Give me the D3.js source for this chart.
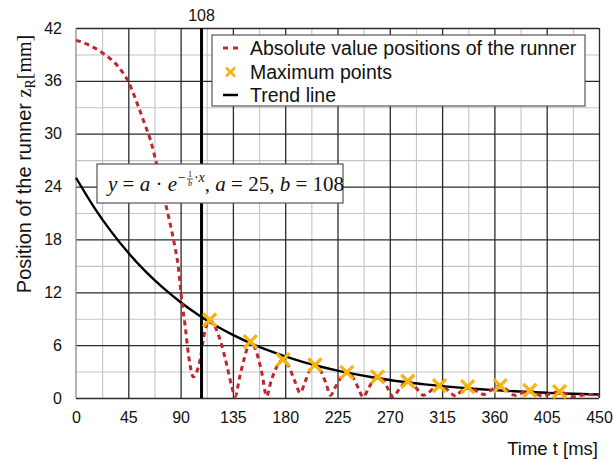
<!DOCTYPE html>
<html>
<head>
<meta charset="utf-8">
<script src="https://cdn.jsdelivr.net/npm/d3@7"></script>
<style>
  html, body { margin: 0; padding: 0; background: #fff; }
  svg { display: block; }
</style>
</head>
<body>
<svg id="chart" width="613" height="461"></svg>
<script>
// ---------- data ----------
const timeMs = [0, 9, 23.5, 36.4, 45, 53.6, 59.4, 64, 68, 72, 77, 84, 88, 91, 94, 97, 101, 104, 107, 110,
  115, 120, 124, 130, 134, 137, 141, 145, 150, 155, 160, 164, 168, 173, 178, 183, 188, 193, 197, 201,
  205, 210, 215, 219, 223, 228, 233, 238, 243, 247, 251, 255, 260, 265, 269, 273, 277, 281, 286, 290,
  295, 299, 303, 308, 313, 318, 323, 327, 330, 334, 337, 342, 347, 351, 356, 361, 365, 370, 374, 378,
  382, 386, 390, 395, 399, 402, 406, 411, 416, 421, 428, 435, 442, 450];
const positionMm = [40.6, 40.2, 39.1, 37.6, 35.9, 33.1, 31.0, 29.3, 27.3, 25.0, 22.1, 17.9, 14.9, 11.1, 8.1, 4.7, 2.4, 3.0, 4.5, 7.0,
  8.85, 8.0, 6.6, 3.6, 1.3, 0.2, 2.5, 4.6, 6.4, 5.3, 2.8, 0.2, 2.0, 3.6, 4.35, 3.6, 2.0, 0.6, 1.8, 3.1,
  3.75, 3.2, 1.7, 0.3, 1.2, 2.3, 2.9, 2.4, 1.1, 0.1, 0.9, 1.9, 2.4, 1.9, 0.9, 0.1, 0.8, 1.5, 1.9, 1.5,
  0.8, 0.3, 0.6, 1.1, 1.4, 1.1, 0.5, 0.2, 0.6, 1.0, 1.3, 1.0, 0.6, 0.4, 0.8, 1.2, 1.4, 1.0, 0.5, 0.3,
  0.5, 0.7, 0.85, 0.6, 0.3, 0.2, 0.4, 0.6, 0.72, 0.5, 0.15, 0.3, 0.4, 0.3];

const maxTime = [115, 150, 178, 205.5, 233, 259.5, 285.5, 312.7, 337, 365, 390.5, 416];
const maxPos  = [8.85, 6.4, 4.35, 3.75, 2.9, 2.4, 1.9, 1.4, 1.3, 1.4, 0.85, 0.72];

const trendTime = [0, 15, 30, 45, 60, 75, 90, 105, 120, 135, 150, 165, 180, 195, 210, 225, 240,
  255, 270, 285, 300, 315, 330, 345, 360, 375, 390, 405, 420, 435, 450];
const trendPos = [25, 21.76, 18.94, 16.48, 14.34, 12.49, 10.87, 9.46, 8.23, 7.16, 6.23, 5.43, 4.72,
  4.11, 3.58, 3.11, 2.71, 2.36, 2.05, 1.79, 1.55, 1.35, 1.18, 1.02, 0.89, 0.78, 0.68, 0.59, 0.51, 0.45, 0.39];

const markerTime = 108;
const xTicks = [0, 45, 90, 135, 180, 225, 270, 315, 360, 405, 450];
const xMinor = [22.5, 67.5, 112.5, 157.5, 202.5, 247.5, 292.5, 337.5, 382.5, 427.5];
const yTicks = [0, 6, 12, 18, 24, 30, 36, 42];
const yMinor = [3, 9, 15, 21, 27, 33, 39];
const legendLabels = ["Absolute value positions of the runner", "Maximum points", "Trend line"];
const xLabel = "Time t [ms]";

// ---------- layout ----------
const svg = d3.select("#chart");
const L = 76, R = 599, T = 28, B = 398;
const x = d3.scaleLinear().domain([0, 450]).range([L, R]);
const y = d3.scaleLinear().domain([0, 42]).range([B, T]);
const sans = "'Liberation Sans', Arial, Helvetica, sans-serif";
const serif = "'Liberation Serif', 'Times New Roman', serif";

// minor grid
svg.append("g").attr("transform", `translate(0,${B})`)
  .call(d3.axisBottom(x).tickValues(xMinor).tickSize(-(B - T)).tickFormat(""))
  .call(g => g.select(".domain").remove())
  .selectAll("line").attr("stroke", "#c4c4c4").attr("stroke-width", 1.1);
svg.append("g").attr("transform", `translate(${L},0)`)
  .call(d3.axisLeft(y).tickValues(yMinor).tickSize(-(R - L)).tickFormat(""))
  .call(g => g.select(".domain").remove())
  .selectAll("line").attr("stroke", "#c4c4c4").attr("stroke-width", 1.1);

// major grid
svg.append("g").attr("transform", `translate(0,${B})`)
  .call(d3.axisBottom(x).tickValues(xTicks.slice(1)).tickSize(-(B - T)).tickFormat(""))
  .call(g => g.select(".domain").remove())
  .selectAll("line").attr("stroke", "#2a2a2a").attr("stroke-width", 1.3);
svg.append("g").attr("transform", `translate(${L},0)`)
  .call(d3.axisLeft(y).tickValues(yTicks).tickSize(-(R - L)).tickFormat(""))
  .call(g => g.select(".domain").remove())
  .selectAll("line").attr("stroke", "#2a2a2a").attr("stroke-width", 1.3);
// left frame (lighter)
svg.append("line").attr("x1", x(0)).attr("x2", x(0)).attr("y1", T).attr("y2", B)
  .attr("stroke", "#8a8a8a").attr("stroke-width", 1.3);

// tick labels
svg.append("g").attr("transform", `translate(0,${B})`)
  .call(d3.axisBottom(x).tickValues(xTicks).tickSize(0).tickPadding(14).tickFormat(d3.format("d")))
  .call(g => g.select(".domain").remove())
  .selectAll("text").attr("font-family", sans).attr("font-size", 16).attr("fill", "#111");
svg.append("g").attr("transform", `translate(${L},0)`)
  .call(d3.axisLeft(y).tickValues(yTicks).tickSize(0).tickPadding(14).tickFormat(d3.format("d")))
  .call(g => g.select(".domain").remove())
  .selectAll("text").attr("font-family", sans).attr("font-size", 16).attr("fill", "#111");

// trend line
svg.append("path")
  .datum(trendTime.map((t, i) => [t, trendPos[i]]))
  .attr("fill", "none").attr("stroke", "#000").attr("stroke-width", 2.4)
  .attr("d", d3.line().x(d => x(d[0])).y(d => y(d[1])).curve(d3.curveMonotoneX));

// runner positions
svg.append("path")
  .datum(timeMs.map((t, i) => [t, positionMm[i]]))
  .attr("fill", "none").attr("stroke", "#c1272d").attr("stroke-width", 3)
  .attr("stroke-dasharray", "5,4")
  .attr("d", d3.line().x(d => x(d[0])).y(d => y(d[1])).curve(d3.curveMonotoneX));

// vertical line at 108
svg.append("line").attr("x1", x(markerTime)).attr("x2", x(markerTime)).attr("y1", T).attr("y2", B)
  .attr("stroke", "#000").attr("stroke-width", 3);
svg.append("text").attr("x", x(markerTime)).attr("y", 21).attr("text-anchor", "middle")
  .attr("font-family", sans).attr("font-size", 16).attr("fill", "#111").text(markerTime);

// maximum points
const cross = (g, s, w) => {
  g.append("line").attr("x1", -s).attr("y1", -s).attr("x2", s).attr("y2", s);
  g.append("line").attr("x1", -s).attr("y1", s).attr("x2", s).attr("y2", -s);
  g.selectAll("line").attr("stroke", "#f6b40e").attr("stroke-width", w).attr("stroke-linecap", "butt");
};
svg.append("g").selectAll("g").data(maxTime.map((t, i) => [t, maxPos[i]])).join("g")
  .attr("transform", d => `translate(${x(d[0])},${y(d[1])})`)
  .each(function () { cross(d3.select(this), 6.5, 3.3); });

// equation box
const eq = svg.append("g");
eq.append("rect").attr("x", 97).attr("y", 164).attr("width", 246).attr("height", 39)
  .attr("fill", "#fff").attr("stroke", "#555").attr("stroke-width", 1.2);
{
  const base = 191;
  let cx = 108;
  const put = (txt, opts = {}) => {
    const t = eq.append("text").attr("x", cx).attr("y", base + (opts.dy || 0))
      .attr("font-family", serif).attr("font-size", opts.size || 21)
      .attr("font-style", opts.it ? "italic" : "normal").attr("fill", "#111")
      .attr("xml:space", "preserve").style("white-space", "pre").text(txt);
    cx += t.node().getComputedTextLength() + (opts.gap || 0);
    return t;
  };
  put("y", { it: true }); put(" = "); put("a", { it: true }); put(" · "); put("e", { it: true, gap: 1 });
  put("−", { size: 14, dy: -9 });
  const fx = cx + 1;
  eq.append("text").attr("x", fx + 3).attr("y", base - 14).attr("text-anchor", "middle")
    .attr("font-family", serif).attr("font-size", 8).attr("fill", "#111").text("1");
  eq.append("line").attr("x1", fx).attr("x2", fx + 6).attr("y1", base - 12).attr("y2", base - 12)
    .attr("stroke", "#111").attr("stroke-width", 0.8);
  eq.append("text").attr("x", fx + 3).attr("y", base - 5).attr("text-anchor", "middle")
    .attr("font-family", serif).attr("font-size", 8).attr("font-style", "italic").attr("fill", "#111").text("b");
  cx += 8;
  put("·", { size: 14, dy: -9 }); put("x", { size: 14, dy: -9, it: true });
  put(", "); put("a", { it: true }); put(" = 25, "); put("b", { it: true }); put(" = 108");
}

// legend
const lg = svg.append("g");
lg.append("rect").attr("x", 212).attr("y", 35).attr("width", 373).attr("height", 71)
  .attr("fill", "#fff").attr("stroke", "#555").attr("stroke-width", 1.2);
const rows = [48, 72, 95];
lg.append("line").attr("x1", 223).attr("x2", 238).attr("y1", rows[0]).attr("y2", rows[0])
  .attr("stroke", "#c1272d").attr("stroke-width", 3).attr("stroke-dasharray", "5,5");
cross(lg.append("g").attr("transform", `translate(230.5,${rows[1]})`), 4.5, 2.5);
lg.append("line").attr("x1", 223).attr("x2", 238).attr("y1", rows[2]).attr("y2", rows[2])
  .attr("stroke", "#000").attr("stroke-width", 2.5);
lg.selectAll("text.lab").data(legendLabels).join("text").attr("class", "lab")
  .attr("x", 250).attr("y", (d, i) => rows[i] + 7)
  .attr("font-family", sans).attr("font-size", 19.5).attr("fill", "#111").text(d => d);

// axis titles
svg.append("text").attr("x", 598).attr("y", 455).attr("text-anchor", "end")
  .attr("font-family", sans).attr("font-size", 18.5).attr("fill", "#111").text(xLabel);
const yl = svg.append("text").attr("transform", "translate(31,164) rotate(-90)")
  .attr("text-anchor", "middle").attr("font-family", sans).attr("font-size", 20).attr("fill", "#111");
yl.append("tspan").text("Position of the runner ");
yl.append("tspan").attr("font-family", serif).text("z");
yl.append("tspan").attr("font-family", serif).attr("font-size", 14).attr("dy", 4).text("R");
yl.append("tspan").attr("font-family", serif).attr("dy", -4).text("[mm]");
</script>
</body>
</html>
